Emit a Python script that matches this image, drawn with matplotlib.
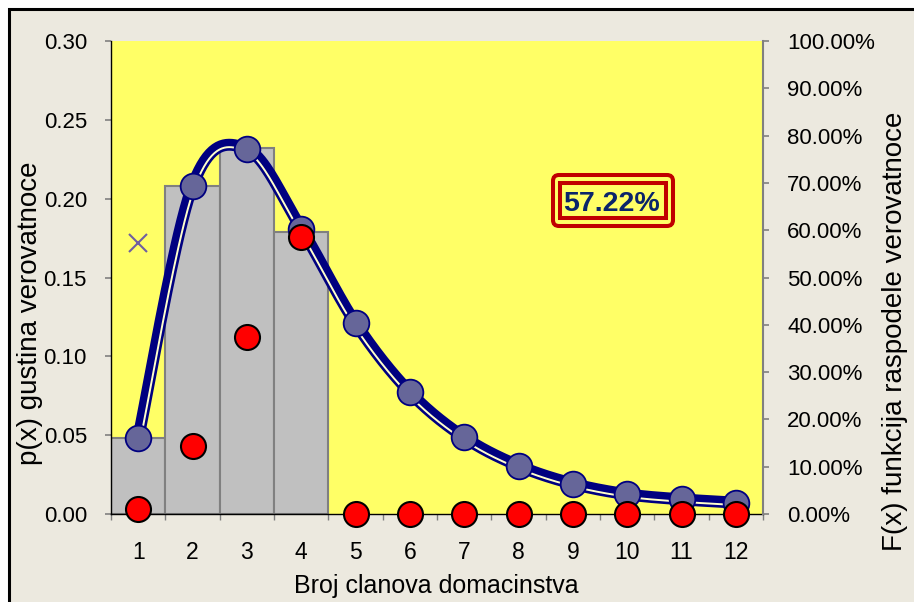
import numpy as np
import matplotlib
matplotlib.use("Agg")
import matplotlib.pyplot as plt
from matplotlib.patches import Rectangle, FancyBboxPatch
from matplotlib.transforms import IdentityTransform
from matplotlib.ticker import FuncFormatter

plt.rcParams['font.family'] = ['Liberation Sans', 'DejaVu Sans']

# ---- data ----
members = [1, 2, 3, 4, 5, 6, 7, 8, 9, 10, 11, 12]
hist_members = [1, 2, 3, 4]
hist_density = [0.048, 0.208, 0.232, 0.179]
model_density = [0.048, 0.208, 0.2315, 0.181, 0.121, 0.0772, 0.0486,
                 0.0306, 0.0192, 0.0125, 0.0093, 0.0072]
cdf_points = [0.0099, 0.1438, 0.375, 0.585, 0, 0, 0, 0, 0, 0, 0, 0]
extra_x = [1]
extra_y = [0.172]
share_label = "57.22%"
left_ticks = [0.00, 0.05, 0.10, 0.15, 0.20, 0.25, 0.30]
right_ticks = [0.0, 0.1, 0.2, 0.3, 0.4, 0.5, 0.6, 0.7, 0.8, 0.9, 1.0]

W, H, DPI = 914, 602, 100
fig = plt.figure(figsize=(W / DPI, H / DPI), dpi=DPI, facecolor='white')


def fx(px):
    return px / W


def fy(py):
    return 1 - py / H


# chart area with dark frame
fig.add_artist(Rectangle((fx(9), -0.05), 1.1, fy(9) + 0.05,
                         transform=fig.transFigure, facecolor='#ECE9DF',
                         edgecolor='black', linewidth=2.2, zorder=0))

ax = fig.add_axes([fx(111), fy(514), (763 - 111) / W, (514 - 41) / H])
ax.set_facecolor('#FFFF66')
ax.set_xlim(0.5, 12.5)
ax.set_ylim(0, 0.30)

# histogram bars
ax.bar(hist_members, hist_density, width=1.0, color='#C0C0C0',
       edgecolor='#808080', linewidth=1.5, zorder=2)


def smooth_curve(xs, ys, n=40):
    P = np.column_stack([xs, ys]).astype(float)
    out = []
    for i in range(len(P) - 1):
        p0 = P[i - 1] if i > 0 else P[i]
        p1, p2 = P[i], P[i + 1]
        p3 = P[i + 2] if i + 2 < len(P) else P[i + 1]
        c1 = p1 + (p2 - p0) / 6
        c2 = p2 - (p3 - p1) / 6
        t = np.linspace(0, 1, n, endpoint=(i == len(P) - 2))[:, None]
        seg = ((1 - t) ** 3 * p1 + 3 * (1 - t) ** 2 * t * c1
               + 3 * (1 - t) * t ** 2 * c2 + t ** 3 * p2)
        out.append(seg)
    return np.vstack(out)


curve = smooth_curve(members, model_density)
disp = ax.transData.transform(curve)
d = np.gradient(disp, axis=0)
nrm = np.column_stack([d[:, 1], -d[:, 0]])
nrm /= np.linalg.norm(nrm, axis=1)[:, None]
inner = ax.transData.inverted().transform(disp + nrm * 2.4)

ax.plot(curve[:, 0], curve[:, 1], color='#000080', lw=8.6,
        solid_capstyle='butt', solid_joinstyle='round', zorder=3)
ax.plot(inner[:, 0], inner[:, 1], color='#FFFFCC', lw=1.4,
        solid_capstyle='butt', zorder=3.1)
ax.plot(members, model_density, linestyle='none', marker='o', ms=18.5,
        mfc='#666699', mec='#000080', mew=1.3, zorder=4)
ax.plot(extra_x, extra_y, linestyle='none', marker='x', ms=13,
        color='#6F5FA0', mew=1.5, zorder=4)

# axes styling
for s in ('top', 'right'):
    ax.spines[s].set_visible(False)
ax.spines['left'].set_color('black')
ax.spines['bottom'].set_color('black')
ax.spines['left'].set_linewidth(1.0)
ax.spines['bottom'].set_linewidth(1.0)

ax.set_xticks(members)
ax.set_xticks(np.arange(0.5, 13, 1), minor=True)
ax.tick_params(axis='x', which='major', length=0, pad=19.5, labelsize=16.5)
ax.tick_params(axis='x', which='minor', length=4.3, width=1,
               color='#808080', direction='out')
ax.set_yticks(left_ticks)
ax.yaxis.set_major_formatter(FuncFormatter(lambda v, p: f'{v:.2f}'))
ax.tick_params(axis='y', length=4.3, width=1.2, color='#808080',
               pad=13, labelsize=16)

ax2 = ax.twinx()
ax2.set_ylim(0, 1)
ax2.set_yticks(right_ticks)
ax2.yaxis.set_major_formatter(FuncFormatter(lambda v, p: f'{v * 100:.2f}%'))
ax2.tick_params(axis='y', length=4.3, width=1.2, color='#808080',
                pad=13, labelsize=16)
for s in ('top', 'left', 'bottom'):
    ax2.spines[s].set_visible(False)
ax2.spines['right'].set_color('#808080')
ax2.spines['right'].set_linewidth(1.5)
ax2.plot(members, cdf_points, linestyle='none', marker='o', ms=18,
         mfc='#FF0000', mec='black', mew=1.5, clip_on=False, zorder=5)

# axis titles
fig.text(fx(436), fy(593), 'Broj clanova domacinstva', ha='center',
         va='baseline', fontsize=18)
fig.text(fx(30), fy(313), 'p(x) gustina verovatnoce', rotation=90,
         ha='center', va='center', fontsize=20)
fig.text(fx(882), fy(331), 'F(x) funkcija raspodele verovatnoce',
         rotation=90, ha='left', va='center', fontsize=20)

# framed value label
fig.add_artist(FancyBboxPatch((553, H - 226), 120, 51,
                              boxstyle='round,pad=0,rounding_size=6',
                              transform=IdentityTransform(),
                              facecolor='#FFFF66', edgecolor='#C00000',
                              linewidth=2.9, zorder=6))
fig.add_artist(Rectangle((560, H - 218), 106, 35,
                         transform=IdentityTransform(),
                         facecolor='#FFFF66', edgecolor='#C00000',
                         linewidth=2.9, zorder=6.1))
fig.text(fx(612), fy(211), share_label, ha='center', va='baseline',
         fontsize=20.5, fontweight='bold', color='#0A246A', zorder=7)

fig.savefig('out.png', dpi=DPI, facecolor=fig.get_facecolor())
